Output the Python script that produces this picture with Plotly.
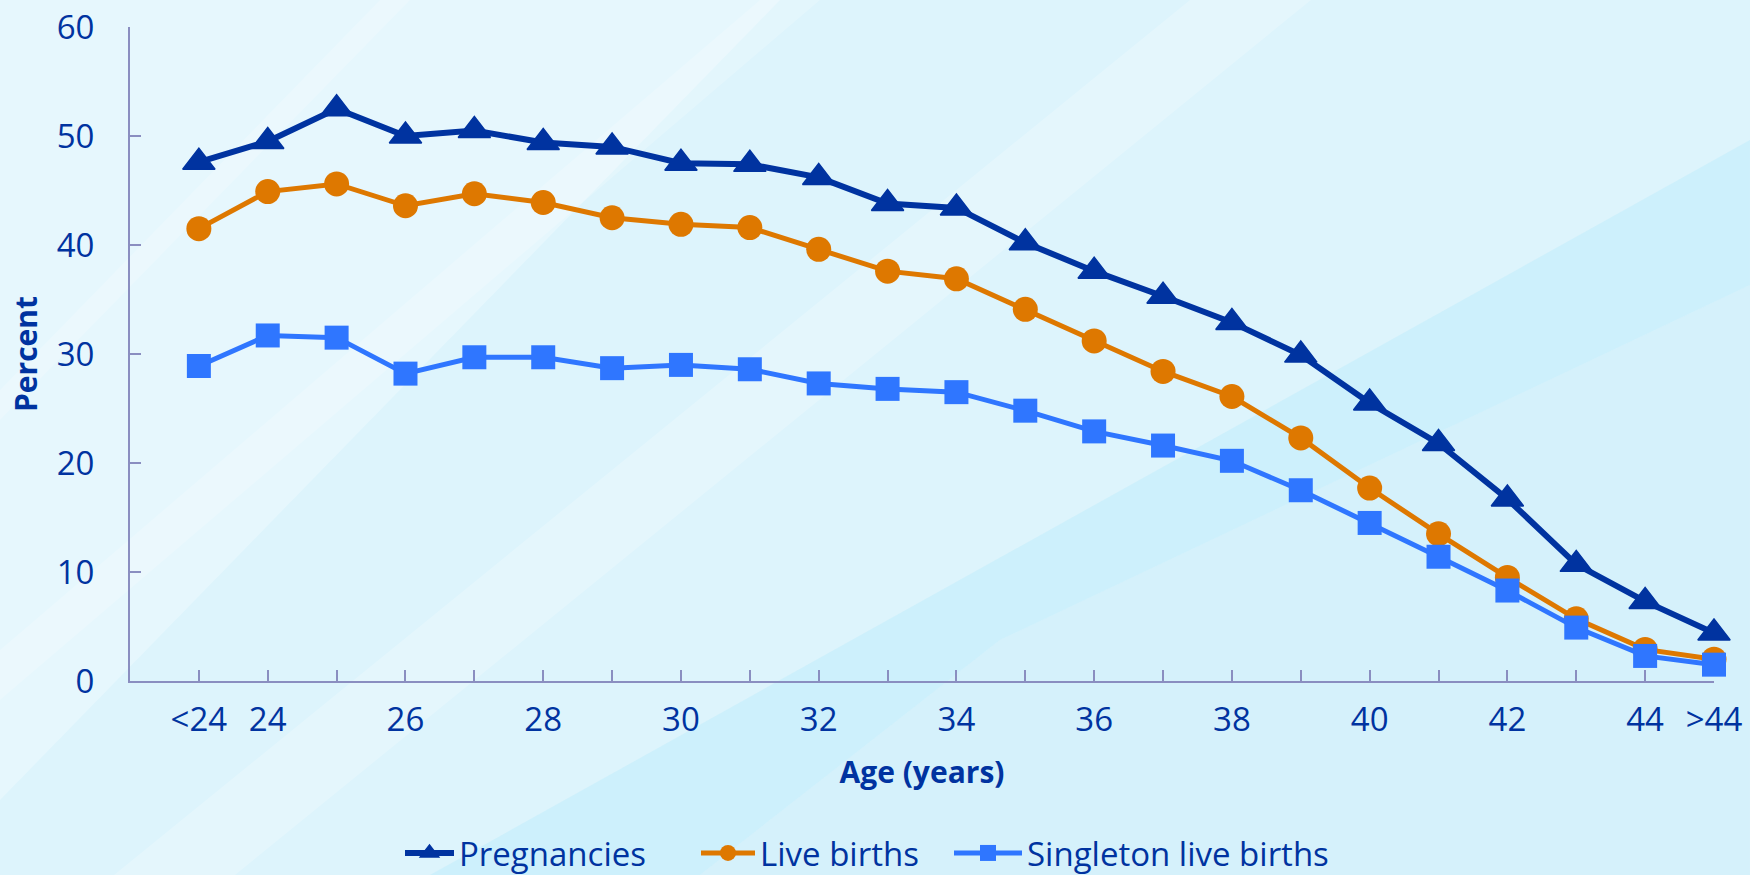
import plotly.graph_objects as go

# ---------------- data ----------------
ages = ["<24", "24", "25", "26", "27", "28", "29", "30", "31", "32", "33", "34",
        "35", "36", "37", "38", "39", "40", "41", "42", "43", "44", ">44"]
tick_labels = ["<24", "24", "", "26", "", "28", "", "30", "", "32", "", "34",
               "", "36", "", "38", "", "40", "", "42", "", "44", ">44"]
pregnancies = [47.6, 49.5, 52.5, 50.0, 50.5, 49.4, 49.0, 47.5, 47.4, 46.2, 43.8, 43.4,
               40.2, 37.6, 35.3, 32.9, 29.9, 25.5, 21.8, 16.7, 10.7, 7.3, 4.4]
live_births = [41.5, 44.9, 45.6, 43.6, 44.7, 43.9, 42.5, 41.9, 41.6, 39.6, 37.6, 36.9,
               34.1, 31.2, 28.4, 26.1, 22.3, 17.7, 13.5, 9.5, 5.7, 2.9, 2.0]
singleton = [28.9, 31.7, 31.5, 28.2, 29.7, 29.7, 28.7, 29.0, 28.6, 27.3, 26.8, 26.5,
             24.8, 22.9, 21.6, 20.2, 17.5, 14.5, 11.4, 8.3, 4.9, 2.3, 1.5]
series_names = ["Pregnancies", "Live births", "Singleton live births"]

# ---------------- style ----------------
W, H = 1750, 875
ML, MR, MT, MB = 130, 36, 27, 194
TXT = "#0033A0"
AXC = "#8A8EC0"
FONT = "Open Sans"
FS = 33

fig = go.Figure()
fig.add_trace(go.Scatter(x=ages, y=pregnancies, name=series_names[0], mode="lines+markers",
                         line=dict(color="#0033A0", width=6),
                         marker=dict(symbol="triangle-up", size=28, color="#0033A0",
                                     line=dict(color="#0033A0", width=1.5)),
                         cliponaxis=False, legend="legend"))
fig.add_trace(go.Scatter(x=ages, y=live_births, name=series_names[1], mode="lines+markers",
                         line=dict(color="#DE7800", width=5),
                         marker=dict(symbol="circle", size=25, color="#DE7800"),
                         cliponaxis=False, legend="legend2"))
fig.add_trace(go.Scatter(x=ages, y=singleton, name=series_names[2], mode="lines+markers",
                         line=dict(color="#2F76FF", width=5),
                         marker=dict(symbol="square", size=24, color="#2F76FF"),
                         cliponaxis=False, legend="legend3"))

# background decoration (pixel polygons converted to paper coordinates)
PW, PH = W - ML - MR, H - MT - MB


def poly(points):
    parts = []
    for i, (px, py) in enumerate(points):
        xp = (px - ML) / PW
        yp = (H - MB - py) / PH
        parts.append(("M" if i == 0 else "L") + f"{xp:.4f},{yp:.4f}")
    return " ".join(parts) + " Z"


bg_shapes = [
    ([(0, 0), (780, 0), (0, 800)], "#E6F7FD", 1.0),
    ([(1750, 285), (1750, 875), (700, 875), (1000, 640)], "#D5F1FB", 1.0),
    ([(1750, 140), (1750, 285), (1000, 640), (700, 875), (430, 875)], "#C9EFFB", 0.8),
    ([(1190, 0), (1311, 0), (235, 875), (114, 875)], "#FFFFFF", 0.22),
    ([(760, 0), (820, 0), (0, 700), (0, 650)], "#FFFFFF", 0.2),
    ([(380, 0), (410, 0), (0, 420), (0, 390)], "#FFFFFF", 0.2),
]
shapes = []
for pts, col, op in bg_shapes:
    shapes.append(dict(type="path", path=poly(pts), xref="paper", yref="paper",
                       fillcolor=col, opacity=op, line=dict(width=0), layer="below"))

legend_style = dict(orientation="h", xanchor="left", xref="container",
                    y=1 - 853 / H, yanchor="middle", yref="container",
                    font=dict(family=FONT, size=FS, color=TXT),
                    bgcolor="rgba(0,0,0,0)", borderwidth=0)

fig.update_layout(
    width=W, height=H,
    margin=dict(l=ML, r=MR, t=MT, b=MB, autoexpand=False),
    paper_bgcolor="#DDF4FC",
    plot_bgcolor="rgba(0,0,0,0)",
    font=dict(family=FONT, color=TXT, size=FS),
    shapes=shapes,
    showlegend=True,
    legend=dict(x=400 / W, itemwidth=49, **legend_style),
    legend2=dict(x=696 / W, itemwidth=54, **legend_style),
    legend3=dict(x=949 / W, itemwidth=68, **legend_style),
    xaxis=dict(type="category", range=[-1, 22], tickmode="array",
               tickvals=ages, ticktext=tick_labels, automargin=False,
               showline=True, linecolor=AXC, linewidth=2,
               ticks="inside", ticklen=11, tickwidth=2, tickcolor=AXC,
               showgrid=False, zeroline=False, ticklabelstandoff=8,
               tickfont=dict(family=FONT, size=FS, color=TXT),
               title=dict(text="<b>Age (years)</b>", standoff=22,
                          font=dict(family=FONT, size=30, color=TXT))),
    yaxis=dict(range=[0, 60], dtick=10, tick0=0, automargin=False,
               showline=True, linecolor=AXC, linewidth=2,
               ticks="inside", ticklen=11, tickwidth=2, tickcolor=AXC,
               showgrid=False, zeroline=False, ticklabelstandoff=27,
               tickfont=dict(family=FONT, size=FS, color=TXT),
               title=dict(text="<b>Percent</b>", standoff=10,
                          font=dict(family=FONT, size=30, color=TXT))),
)

fig.write_html("out.html", config={"displayModeBar": False},
               post_script="document.body.style.margin='0';document.body.style.padding='0';"
                           "document.body.style.overflow='hidden';")
